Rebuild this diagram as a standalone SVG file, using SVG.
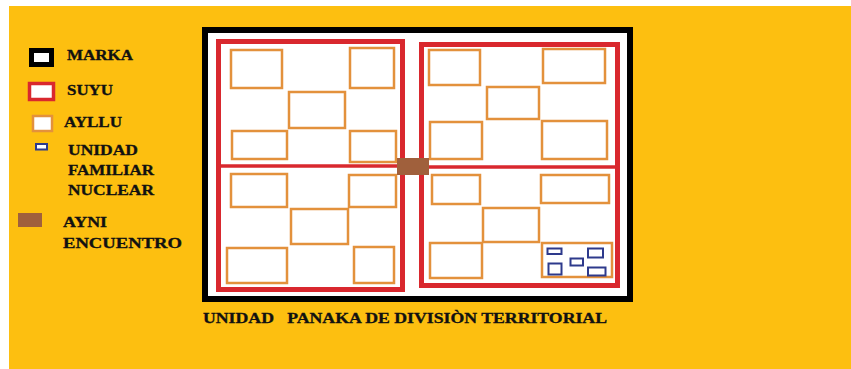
<svg xmlns="http://www.w3.org/2000/svg" width="851" height="369" viewBox="0 0 851 369">
<style>
.t{font-family:"Liberation Serif","Times New Roman",serif;font-weight:bold;font-size:14px;fill:#111;stroke:#111;stroke-width:0.3;}
.ay{fill:none;stroke:#e3913c;stroke-width:2.5;}
.un{fill:#fff;stroke:#2e3a8c;stroke-width:2;}
.su{fill:none;stroke:#d9282e;stroke-width:5;}
</style>
<rect x="0" y="0" width="851" height="369" fill="#ffffff"/>
<rect x="9" y="6" width="842" height="363" fill="#fdbf10"/>
<g id="legend">
  <g id="legend-marka"><rect x="31.5" y="50.5" width="20" height="14" fill="#fff" stroke="#000" stroke-width="5"/><text class="t" x="67" y="60" textLength="66" lengthAdjust="spacingAndGlyphs">MARKA</text></g>
  <g id="legend-suyu"><rect x="29.5" y="83.5" width="24" height="16" fill="#fff" stroke="#d9282e" stroke-width="3.5"/><text class="t" x="67" y="95" textLength="46" lengthAdjust="spacingAndGlyphs">SUYU</text></g>
  <g id="legend-ayllu"><rect x="33" y="116" width="19" height="15" fill="#fff" stroke="#e3913c" stroke-width="2.5"/><text class="t" x="64" y="127" textLength="58" lengthAdjust="spacingAndGlyphs">AYLLU</text></g>
  <g id="legend-unidad"><rect x="36" y="144" width="11" height="5.5" class="un"/><text class="t" x="68" y="155" textLength="70" lengthAdjust="spacingAndGlyphs">UNIDAD</text><text class="t" x="68" y="175" textLength="86" lengthAdjust="spacingAndGlyphs">FAMILIAR</text><text class="t" x="68" y="195" textLength="86" lengthAdjust="spacingAndGlyphs">NUCLEAR</text></g>
  <g id="legend-ayni"><rect x="18" y="213" width="24" height="14" fill="#a0603c"/><text class="t" x="63" y="227" textLength="44" lengthAdjust="spacingAndGlyphs">AYNI</text><text class="t" x="63" y="248" textLength="119" lengthAdjust="spacingAndGlyphs">ENCUENTRO</text></g>
</g>
<g id="marka">
  <rect x="205" y="30" width="425" height="269" fill="#ffffff" stroke="#000" stroke-width="6"/>
</g>
<g id="suyu-left">
  <rect class="su" x="218.5" y="41.5" width="184" height="248"/>
  <line x1="219" y1="166" x2="402" y2="166" stroke="#d9282e" stroke-width="3.5"/>
</g>
<g id="suyu-right">
  <rect class="su" x="421.5" y="44.5" width="196" height="241"/>
  <line x1="422" y1="167" x2="617" y2="167" stroke="#d9282e" stroke-width="3.5"/>
</g>
<g id="ayllus-left">
  <rect class="ay" x="231" y="50" width="51" height="38"/>
  <rect class="ay" x="350" y="48" width="44" height="40"/>
  <rect class="ay" x="289" y="92" width="56" height="36"/>
  <rect class="ay" x="232" y="131" width="55" height="28"/>
  <rect class="ay" x="350" y="131" width="46" height="31"/>
  <rect class="ay" x="231" y="174" width="56" height="33"/>
  <rect class="ay" x="349" y="175" width="47" height="32"/>
  <rect class="ay" x="291" y="209" width="57" height="35"/>
  <rect class="ay" x="227" y="248" width="60" height="35"/>
  <rect class="ay" x="354" y="247" width="40" height="36"/>
</g>
<g id="ayllus-right">
  <rect class="ay" x="429" y="50" width="51" height="35"/>
  <rect class="ay" x="543" y="49" width="62" height="34"/>
  <rect class="ay" x="487" y="87" width="52" height="32"/>
  <rect class="ay" x="430" y="122" width="52" height="37"/>
  <rect class="ay" x="542" y="121" width="65" height="38"/>
  <rect class="ay" x="432" y="175" width="48" height="29"/>
  <rect class="ay" x="541" y="175" width="68" height="28"/>
  <rect class="ay" x="483" y="208" width="56" height="34"/>
  <rect class="ay" x="430" y="243" width="52" height="35"/>
  <rect class="ay" x="542" y="243" width="70" height="34"/>
</g>
<g id="unidades-familiares">
  <rect class="un" x="547.5" y="248.5" width="14" height="5.5"/>
  <rect class="un" x="588" y="248.5" width="15" height="9"/>
  <rect class="un" x="570.5" y="258.5" width="12.5" height="7"/>
  <rect class="un" x="548.5" y="263.5" width="13" height="11"/>
  <rect class="un" x="588" y="267.5" width="17.5" height="8"/>
</g>
<g id="ayni">
  <rect x="397" y="158" width="32" height="17" fill="#a0603c"/>
</g>
<g id="title">
  <text class="t" x="203" y="323" textLength="404" lengthAdjust="spacingAndGlyphs" style="white-space:pre">UNIDAD   PANAKA DE DIVISIÒN TERRITORIAL</text>
</g>
</svg>
